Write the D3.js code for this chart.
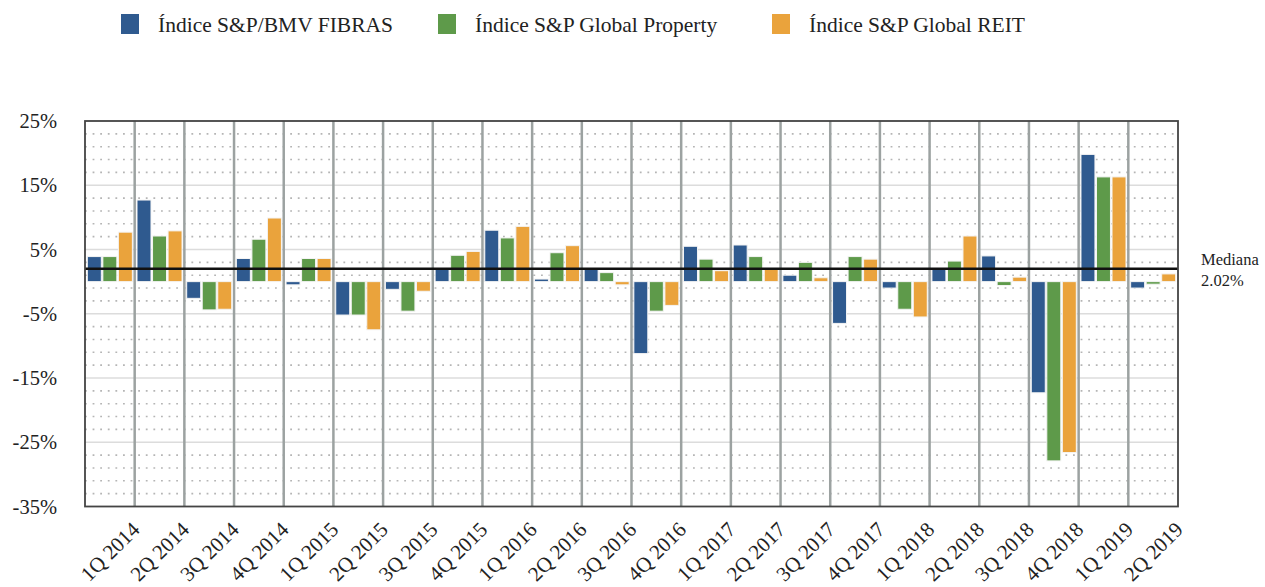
<!DOCTYPE html>
<html>
<head>
<meta charset="utf-8">
<script src="https://cdn.jsdelivr.net/npm/d3@7"></script>
<style>
  body { margin: 0; background: #fff; }
  text { font-family: "Liberation Serif", "DejaVu Serif", serif; fill: #222; }
</style>
</head>
<body>
<div id="chart"></div>
<script>
const quarters = ["1Q 2014", "2Q 2014", "3Q 2014", "4Q 2014", "1Q 2015", "2Q 2015", "3Q 2015", "4Q 2015",
    "1Q 2016", "2Q 2016", "3Q 2016", "4Q 2016", "1Q 2017", "2Q 2017", "3Q 2017", "4Q 2017",
    "1Q 2018", "2Q 2018", "3Q 2018", "4Q 2018", "1Q 2019", "2Q 2019"];

const seriesNames = ["Índice S&P/BMV FIBRAS", "Índice S&P Global Property", "Índice S&P Global REIT"];
const seriesColors = ["#2f5a8f", "#5e9a4a", "#eaa33c"];

const fibras = [3.9, 12.7, -2.6, 3.6, -0.5, -5.2, -1.2, 2.0, 8.0, 0.4, 2.0, -11.2,
    5.5, 5.7, 1.0, -6.5, -1.0, 2.0, 4.0, -17.3, 19.8, -1.0];
const property = [3.9, 7.1, -4.4, 6.6, 3.6, -5.2, -4.6, 4.1, 6.8, 4.5, 1.4, -4.6,
    3.5, 3.9, 3.0, 3.9, -4.3, 3.2, -0.6, -27.9, 16.3, -0.4];
const reit = [7.7, 7.9, -4.3, 9.9, 3.6, -7.5, -1.5, 4.7, 8.6, 5.6, -0.5, -3.7,
    1.7, 1.9, 0.6, 3.5, -5.5, 7.1, 0.7, -26.6, 16.3, 1.2];

const yTicks = [25, 15, 5, -5, -15, -25, -35];
const median = 2.02;

const margin = { top: 121, right: 87, bottom: 80.5, left: 85 };
const width = 1265 - margin.left - margin.right;
const height = 587 - margin.top - margin.bottom;

const svg = d3.select("#chart")
    .append("svg")
    .attr("width", 1265)
    .attr("height", 587);

const g = svg.append("g")
    .attr("transform", `translate(${margin.left},${margin.top})`);

const x = d3.scaleBand()
    .domain(quarters)
    .range([0, width])
    .padding(0);

const x1 = d3.scaleBand()
    .domain([0, 1, 2])
    .range([0, x.bandwidth()])
    .paddingInner(0.1)
    .paddingOuter(0.15);

const y = d3.scaleLinear()
    .domain([-35, 25])
    .range([height, 0]);

// dotted minor grid every 2%
const minor = d3.range(-33, 25, 2).filter(v => (v + 35) % 10 !== 0);
g.selectAll(".minor")
    .data(minor)
    .enter()
    .append("line")
    .attr("x1", 0)
    .attr("x2", width)
    .attr("y1", d => y(d))
    .attr("y2", d => y(d))
    .attr("stroke", "#b5b5b5")
    .attr("stroke-width", 1.6)
    .attr("stroke-dasharray", "1.8 5.8");

// solid grid at labelled ticks
g.selectAll(".major")
    .data(yTicks.slice(1, -1))
    .enter()
    .append("line")
    .attr("x1", 0)
    .attr("x2", width)
    .attr("y1", d => y(d))
    .attr("y2", d => y(d))
    .attr("stroke", "#dcdcdc")
    .attr("stroke-width", 1.5);

// category dividers
g.selectAll(".divider")
    .data(quarters.slice(1))
    .enter()
    .append("line")
    .attr("x1", d => x(d))
    .attr("x2", d => x(d))
    .attr("y1", 0)
    .attr("y2", height)
    .attr("stroke", "#9ca2a1")
    .attr("stroke-width", 2.5);

// bars
const allSeries = [fibras, property, reit];
allSeries.forEach((values, i) => {
    g.selectAll(".bar-" + i)
        .data(values)
        .enter()
        .append("rect")
        .attr("class", "bar-" + i)
        .attr("x", (d, j) => x(quarters[j]) + x1(i))
        .attr("y", d => y(Math.max(0, d)))
        .attr("width", x1.bandwidth())
        .attr("height", d => Math.abs(y(d) - y(0)))
        .attr("fill", seriesColors[i])
        .attr("stroke", "#f4f4f4")
        .attr("stroke-width", 1);
});

// median line
g.append("line")
    .attr("x1", 0)
    .attr("x2", width)
    .attr("y1", y(median))
    .attr("y2", y(median))
    .attr("stroke", "#111")
    .attr("stroke-width", 2.5);

// plot border
g.append("rect")
    .attr("x", 0)
    .attr("y", 0)
    .attr("width", width)
    .attr("height", height)
    .attr("fill", "none")
    .attr("stroke", "#444")
    .attr("stroke-width", 1.8);

// y labels
g.selectAll(".ylab")
    .data(yTicks)
    .enter()
    .append("text")
    .attr("x", -28)
    .attr("y", d => y(d))
    .attr("dy", "0.35em")
    .attr("text-anchor", "end")
    .style("font-size", "20.5px")
    .text(d => d + "%");

// x labels
g.selectAll(".xlab")
    .data(quarters)
    .enter()
    .append("text")
    .attr("transform", d => `translate(${x(d) + x.bandwidth() / 2},${height + 45}) rotate(-45)`)
    .attr("dy", "0.35em")
    .attr("text-anchor", "middle")
    .style("font-size", "21px")
    .text(d => d);

// median label
g.append("text")
    .attr("x", width + 23)
    .attr("y", y(median) - 9)
    .attr("dy", "0.35em")
    .style("font-size", "16.5px")
    .text("Mediana");

g.append("text")
    .attr("x", width + 23)
    .attr("y", y(median) + 12)
    .attr("dy", "0.35em")
    .style("font-size", "16.5px")
    .text(median.toFixed(2) + "%");

// legend
const legendX = [121, 438, 772];
const legend = svg.selectAll(".legend")
    .data(seriesNames)
    .enter()
    .append("g")
    .attr("transform", (d, i) => `translate(${legendX[i]},14)`);

legend.append("rect")
    .attr("width", 18)
    .attr("height", 20)
    .attr("fill", (d, i) => seriesColors[i]);

legend.append("text")
    .attr("x", 37)
    .attr("y", 18)
    .style("font-size", "21.5px")
    .text(d => d);
</script>
</body>
</html>
